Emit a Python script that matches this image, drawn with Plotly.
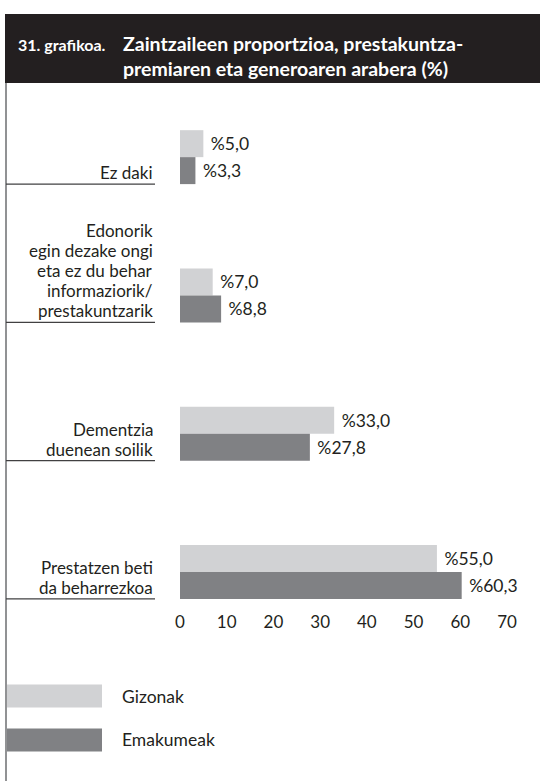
import plotly.graph_objects as go

categories = [
    "Ez daki",
    "Edonorik<br>egin dezake ongi<br>eta ez du behar<br>informaziorik/<br>prestakuntzarik",
    "Dementzia<br>duenean soilik",
    "Prestatzen beti<br>da beharrezkoa",
]
gizonak = [5.0, 7.0, 33.0, 55.0]
emakumeak = [3.3, 8.8, 27.8, 60.3]
series_names = ["Gizonak", "Emakumeak"]
tick_vals = [0, 10, 20, 30, 40, 50, 60, 70]

LIGHT = "#d1d2d4"
DARK = "#808184"
INK = "#231f20"
FONT = "Lato"

W, H = 540, 781
L, R, T, B = 180, 33, 88, 171
PW, PH = W - L - R, H - T - B
BARGAP = 0.61
LINE_H = 20


def px_x(p):
    return (p - L) / PW


def px_y(p):
    return (H - B - p) / PH


def pct(v):
    # leading nbsp gives the gap between bar end and label
    return "\u00a0%" + f"{v:.1f}".replace(".", ",")


idx = list(range(len(categories)))

fig = go.Figure()
for name, vals, col in [(series_names[0], gizonak, LIGHT), (series_names[1], emakumeak, DARK)]:
    fig.add_trace(go.Bar(
        y=idx, x=vals, orientation="h", name=name,
        marker=dict(color=col, line=dict(width=0)),
        text=[pct(v) for v in vals], textposition="outside",
        textfont=dict(family=FONT, size=17.5, color=INK),
        cliponaxis=False, showlegend=False,
    ))

shapes = []
annotations = []

# header band
shapes.append(dict(type="rect", xref="paper", yref="paper",
                   x0=px_x(5), x1=px_x(541), y0=px_y(83), y1=px_y(14),
                   fillcolor=INK, line=dict(width=0), layer="below"))
# left border
shapes.append(dict(type="line", xref="paper", yref="paper",
                   x0=px_x(6), x1=px_x(6), y0=px_y(83), y1=px_y(782),
                   line=dict(color="#6d6e71", width=1.5)))

annotations.append(dict(text="<b>31. grafikoa.</b>", xref="paper", yref="paper",
                        x=px_x(16), y=px_y(45), xanchor="left", yanchor="middle",
                        showarrow=False, font=dict(family=FONT, size=16, color="white")))
annotations.append(dict(text="<b>Zaintzaileen proportzioa, prestakuntza-</b>", xref="paper", yref="paper",
                        x=px_x(121), y=px_y(44), xanchor="left", yanchor="middle",
                        showarrow=False, font=dict(family=FONT, size=19.5, color="white")))
annotations.append(dict(text="<b>premiaren eta generoaren arabera (%)</b>", xref="paper", yref="paper",
                        x=px_x(121), y=px_y(69), xanchor="left", yanchor="middle",
                        showarrow=False, font=dict(family=FONT, size=19.5, color="white")))

# category labels (one annotation per line, tight leading) and separator lines
half = (1 - BARGAP) / 2
for i, cat in enumerate(categories):
    shapes.append(dict(type="line", xref="paper", yref="y",
                       x0=px_x(6), x1=px_x(155), y0=i + half, y1=i + half,
                       line=dict(color="#414042", width=1.2)))
    for k, line in enumerate(reversed(cat.split("<br>"))):
        annotations.append(dict(text=line, xref="paper", yref="y",
                                x=px_x(155), y=i + half, xanchor="right", yanchor="bottom",
                                showarrow=False, yshift=-1 + k * LINE_H,
                                font=dict(family=FONT, size=17, color=INK)))

# legend
for name, col, yc in [(series_names[0], LIGHT, 696), (series_names[1], DARK, 740)]:
    shapes.append(dict(type="rect", xref="paper", yref="paper",
                       x0=px_x(7), x1=px_x(102), y0=px_y(yc + 11.5), y1=px_y(yc - 11.5),
                       fillcolor=col, line=dict(width=0)))
    annotations.append(dict(text=name, xref="paper", yref="paper",
                            x=px_x(120), y=px_y(yc), xanchor="left", yanchor="middle",
                            showarrow=False, font=dict(family=FONT, size=17.5, color=INK)))

fig.update_layout(
    width=W, height=H,
    margin=dict(l=L, r=R, t=T, b=B),
    paper_bgcolor="white", plot_bgcolor="white",
    barmode="group", bargap=BARGAP, bargroupgap=0,
    shapes=shapes, annotations=annotations,
    xaxis=dict(range=[0, 70], tickvals=tick_vals, showgrid=False, zeroline=False,
               showline=False, ticks="", fixedrange=True,
               tickfont=dict(family=FONT, size=17, color=INK)),
    yaxis=dict(range=[3 + (610 - 572) / 138.3, -0.5], showgrid=False, zeroline=False,
               showticklabels=False, showline=False, ticks="", fixedrange=True),
    font=dict(family=FONT, color=INK),
)

fig.write_html("out.html", config={"displayModeBar": False},
               post_script="document.body.style.margin='0';")
